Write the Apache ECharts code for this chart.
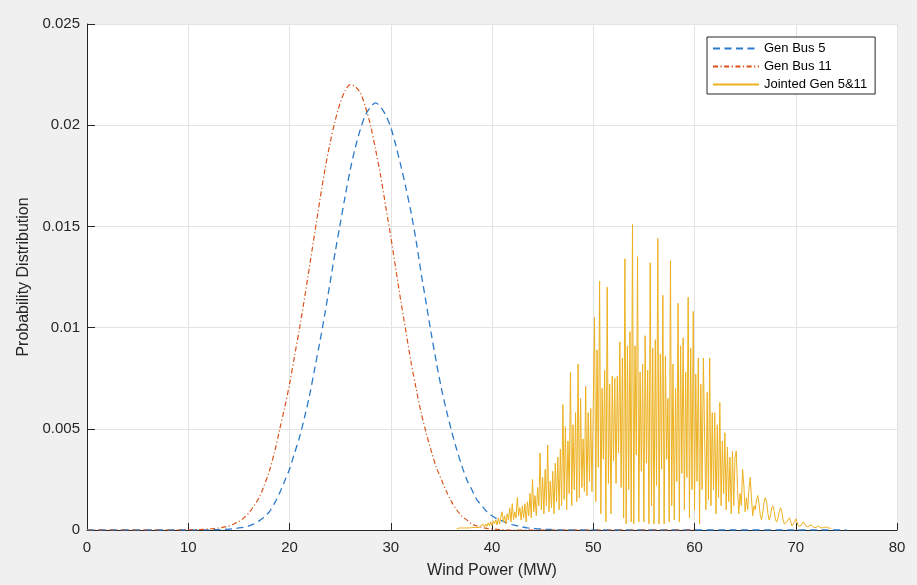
<!DOCTYPE html>
<html><head><meta charset="utf-8">
<script src="https://cdn.jsdelivr.net/npm/echarts@6/dist/echarts.min.js"></script>
<style>html,body{margin:0;padding:0;background:#f0f0f0}#c{width:917px;height:585px}</style>
</head><body><div id="c"></div>
<script>
// ---- data ----
const seriesNames = ['Gen Bus 5', 'Gen Bus 11', 'Jointed Gen 5&11'];
const xTickValues = [0, 10, 20, 30, 40, 50, 60, 70, 80];
const yTickLabels = ['0', '0.005', '0.01', '0.015', '0.02', '0.025'];

// Gen Bus 5 (MW, probability)
const bus5X = [0, 10, 10.5, 11, 11.5, 12, 12.5, 13, 13.5, 14, 14.5, 15, 15.5, 16, 16.5, 17, 17.5, 18, 18.5, 19, 19.5,
  20, 20.5, 21, 21.5, 22, 22.5, 23, 23.5, 24, 24.5, 25, 25.5, 26, 26.5, 27, 27.5, 28, 28.5, 29, 29.5,
  30, 30.5, 31, 31.5, 32, 32.5, 33, 33.5, 34, 34.5, 35, 35.5, 36, 36.5, 37, 37.5, 38, 38.5, 39, 39.5,
  40, 40.5, 41, 41.5, 42, 42.5, 43, 43.5, 44, 44.5, 45, 45.5, 46, 47, 75];
const bus5Y = [0, 0, 0, 0, 0.000005, 0.00001, 0.000015, 0.00002, 0.00003, 0.00004, 0.00007, 0.0001, 0.00014, 0.0002, 0.0003, 0.00045, 0.00065, 0.0009, 0.0013, 0.0018, 0.0024,
  0.0030, 0.0038, 0.0046, 0.0056, 0.0067, 0.0080, 0.0093, 0.0107, 0.0122, 0.0137, 0.0151, 0.0165, 0.0178, 0.0189, 0.0198, 0.0205, 0.0209, 0.0211, 0.0209, 0.0205,
  0.0199, 0.0190, 0.0180, 0.0169, 0.0157, 0.0143, 0.0127, 0.0112, 0.0097, 0.0083, 0.0070, 0.0059, 0.0049, 0.0040, 0.0032, 0.0025, 0.0020, 0.0015, 0.0012, 0.0009,
  0.0007, 0.00055, 0.00045, 0.00035, 0.00027, 0.0002, 0.00015, 0.00011, 0.00008, 0.00006, 0.00004, 0.00003, 0.00002, 0, 0];

// Gen Bus 11 (MW, probability)
const bus11X = [0, 9, 10, 10.5, 11, 11.5, 12, 12.5, 13, 13.5, 14, 14.5, 15, 15.5, 16, 16.5, 17, 17.5, 18, 18.5, 19, 19.5,
  20, 20.5, 21, 21.5, 22, 22.5, 23, 23.5, 24, 24.5, 25, 25.5, 26, 26.5, 27, 27.5, 28, 28.5, 29, 29.5,
  30, 30.5, 31, 31.5, 32, 32.5, 33, 33.5, 34, 34.5, 35, 35.5, 36, 36.5, 37, 37.5, 38, 38.5, 39, 39.5,
  40, 41, 42, 60];
const bus11Y = [0, 0, 0.00001, 0.000015, 0.00002, 0.00003, 0.00005, 0.00007, 0.0001, 0.00014, 0.0002, 0.0003, 0.00042, 0.0006, 0.00085, 0.0012, 0.0016, 0.0022, 0.0029, 0.0038, 0.0049, 0.0060,
  0.0072, 0.0086, 0.0100, 0.0115, 0.0131, 0.0147, 0.0163, 0.0178, 0.0191, 0.0202, 0.0211, 0.0217, 0.0220, 0.0219, 0.0216, 0.0209, 0.0200, 0.0188, 0.0175, 0.0160,
  0.0145, 0.0129, 0.0113, 0.0098, 0.0083, 0.0070, 0.0058, 0.0048, 0.0039, 0.0031, 0.0025, 0.0019, 0.0014, 0.0010, 0.0007, 0.0005, 0.0003, 0.0002, 0.00013, 0.00008,
  0.00005, 0.00002, 0, 0];

// Jointed Gen 5&11: sampled every 0.125 MW starting at 36.5 MW
const jointStart = 36.5;
const jointStep = 0.125;
const jointValues = [
  0.00005, 0.00008, 0.0001, 0.00008,
  0.0001, 0.00012, 0.0001, 0.00013, 0.0001, 0.00012, 0.0001, 0.00014,
  0.00012, 0.00016, 0.00012, 0.0002, 0.00013, 0.00018, 0.00012, 0.00022,
  0.00015, 0.00028, 0.00016, 0.0003, 0.00018, 0.00035, 0.0002, 0.0004,
  0.00022, 0.00045, 0.0003, 0.0005, 0.00025, 0.0006, 0.0003, 0.00065,
  0.0009, 0.0004, 0.0007, 0.0003, 0.0008, 0.0005, 0.0011, 0.0004,
  0.0013, 0.0005, 0.0009, 0.0006, 0.0016, 0.0007, 0.0011, 0.0005,
  0.0012, 0.0006, 0.0013, 0.0004, 0.0014, 0.0007, 0.0018, 0.0006,
  0.0025, 0.0009, 0.0017, 0.0007, 0.0021, 0.0012, 0.0038, 0.0010,
  0.0026, 0.0008, 0.0030, 0.0012, 0.0042, 0.0009, 0.0024, 0.0011,
  0.0029, 0.0008, 0.0033, 0.0014, 0.0036, 0.0010, 0.0040, 0.0012,
  0.0062, 0.0015, 0.0051, 0.0010, 0.0044, 0.0018, 0.0078, 0.0012,
  0.0052, 0.0020, 0.0058, 0.0014, 0.0082, 0.0016, 0.0065, 0.0021,
  0.0045, 0.0019, 0.0071, 0.0017, 0.0058, 0.0024, 0.0060, 0.0019,
  0.0062, 0.0105, 0.0014, 0.0089, 0.0031, 0.0123, 0.0008, 0.0070,
  0.0035, 0.0079, 0.0004, 0.0120, 0.0023, 0.0072, 0.0008, 0.0076,
  0.0034, 0.0075, 0.0023, 0.0076, 0.0038, 0.0093, 0.0021, 0.0085,
  0.0006, 0.0134, 0.0003, 0.0091, 0.0020, 0.0098, 0.0004, 0.0151,
  0.0003, 0.0091, 0.0037, 0.0135, 0.0004, 0.0078, 0.0029, 0.0082,
  0.0004, 0.0096, 0.0033, 0.0079, 0.0003, 0.0132, 0.0012, 0.0090,
  0.0003, 0.0094, 0.0022, 0.0144, 0.0003, 0.0087, 0.0030, 0.0116,
  0.0003, 0.0086, 0.0035, 0.0065, 0.0004, 0.0133, 0.0012, 0.0082,
  0.0005, 0.0070, 0.0024, 0.0112, 0.0004, 0.0091, 0.0028, 0.0095,
  0.0010, 0.0078, 0.0026, 0.0115, 0.0006, 0.0090, 0.0020, 0.0108,
  0.0010, 0.0077, 0.0024, 0.0085, 0.0003, 0.0072, 0.0020, 0.0085,
  0.0046, 0.0010, 0.0068, 0.0015, 0.0085, 0.0012, 0.0058, 0.0020,
  0.0058, 0.0008, 0.0052, 0.0016, 0.0063, 0.0012, 0.0044, 0.0018,
  0.0048, 0.0010, 0.0041, 0.0014, 0.0036, 0.0008, 0.0039, 0.0012,
  0.0036, 0.0039, 0.0020, 0.0008, 0.0018, 0.0012, 0.0030, 0.0022,
  0.0009, 0.0016, 0.0010, 0.0020, 0.0026, 0.0016, 0.0007, 0.0012,
  0.0010, 0.0015, 0.0017, 0.0013, 0.0007, 0.0005, 0.0009, 0.0014,
  0.0016, 0.0014, 0.0008, 0.0005, 0.0007, 0.0011, 0.0012, 0.0009,
  0.0005, 0.0004, 0.0006, 0.0009, 0.0011, 0.0009, 0.0005, 0.0003,
  0.0003, 0.0004, 0.0005, 0.0006, 0.0004, 0.0002, 0.0002, 0.0004,
  0.00055, 0.0004, 0.0002, 0.00015, 0.0002, 0.0003, 0.0004, 0.0003,
  0.0002, 0.00012, 0.00015, 0.00025, 0.0003, 0.00022, 0.00012, 0.0001,
  0.00012, 0.00018, 0.0002, 0.00015, 0.0001, 0.0001, 0.00012, 0.00015,
  0.00015, 0.00012, 0.0001, 0.0001, 0.00008
];

// ---- build chart ----
function zipXY(xs, ys) { return xs.map((x, i) => [x, ys[i]]); }
function grid(start, step, vals) { return vals.map((v, i) => [start + i * step, v]); }

const FONT = '"Liberation Sans", Arial, Helvetica, sans-serif';
const TXT = '#262626';
const chart = echarts.init(document.getElementById('c'), null, { renderer: 'canvas' });
chart.setOption({
  backgroundColor: '#f0f0f0',
  animation: false,
  textStyle: { fontFamily: FONT },
  grid: { left: 87, right: 20, top: 24, bottom: 55, show: true, backgroundColor: '#ffffff', borderWidth: 0, containLabel: false },
  legend: {
    data: seriesNames,
    orient: 'vertical',
    left: 707, top: 37,
    padding: [5, 8, 3, 5],
    itemWidth: 46, itemHeight: 14, itemGap: 5,
    backgroundColor: '#ffffff',
    borderColor: TXT, borderWidth: 1, borderRadius: 0,
    textStyle: { fontSize: 13, color: '#000', fontFamily: FONT },
    itemStyle: { opacity: 0 },
    lineStyle: { opacity: 1 },
    selectedMode: false
  },
  xAxis: {
    type: 'value', min: 0, max: 80, interval: 10,
    name: 'Wind Power (MW)', nameLocation: 'middle', nameGap: 33,
    nameTextStyle: { fontSize: 16, color: TXT, fontFamily: FONT },
    axisLine: { show: true, onZero: false, lineStyle: { color: TXT, width: 1 } },
    axisTick: { show: true, inside: true, length: 7, lineStyle: { color: TXT } },
    axisLabel: { fontSize: 15, color: TXT, margin: 10, fontFamily: FONT,
      formatter: v => (xTickValues.indexOf(v) >= 0 ? String(v) : '') },
    splitLine: { show: true, lineStyle: { color: '#e3e3e3', width: 1 } }
  },
  yAxis: {
    type: 'value', min: 0, max: 0.025, interval: 0.005,
    name: 'Probability Distribution', nameLocation: 'middle', nameGap: 55,
    nameTextStyle: { fontSize: 16, color: TXT, fontFamily: FONT },
    axisLine: { show: true, lineStyle: { color: TXT, width: 1 } },
    axisTick: { show: true, inside: true, length: 8, lineStyle: { color: TXT } },
    axisLabel: { fontSize: 15, color: TXT, margin: 7, fontFamily: FONT,
      formatter: v => yTickLabels[Math.round(v / 0.005)] },
    splitLine: { show: true, lineStyle: { color: '#e3e3e3', width: 1 } }
  },
  series: [
    { name: seriesNames[0], type: 'line', showSymbol: false, symbol: 'none', smooth: 0.3,
      data: zipXY(bus5X, bus5Y),
      color: '#2b7acb',
      lineStyle: { color: '#2b7acb', width: 1.3, type: [7, 4.5] } },
    { name: seriesNames[1], type: 'line', showSymbol: false, symbol: 'none', smooth: 0.3,
      data: zipXY(bus11X, bus11Y),
      color: '#D95319',
      lineStyle: { color: '#D95319', width: 1.2, type: [5, 2.5, 1.2, 2.5] } },
    { name: seriesNames[2], type: 'line', showSymbol: false, symbol: 'none',
      data: grid(jointStart, jointStep, jointValues),
      color: '#EDB120',
      lineStyle: { color: '#EDB120', width: 1 } }
  ]
});
</script>
</body></html>
